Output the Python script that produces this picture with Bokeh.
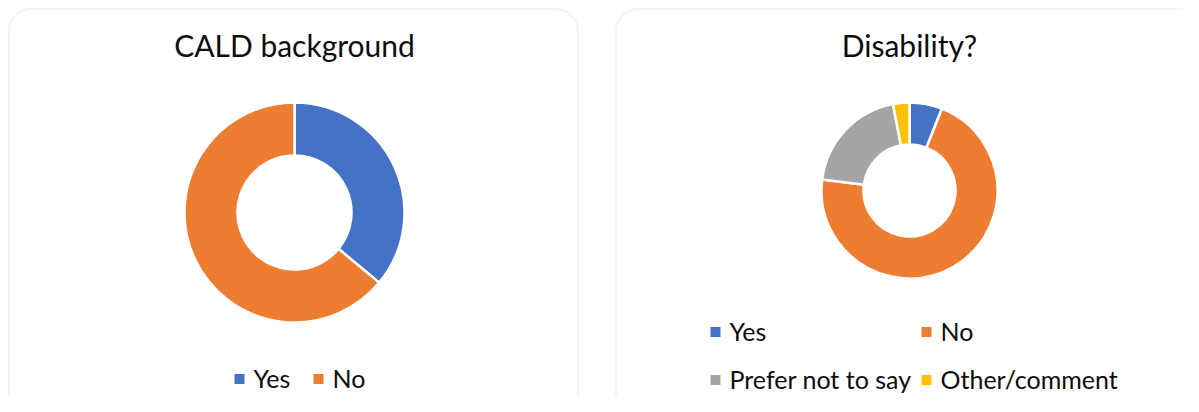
import numpy as np
from bokeh.plotting import figure
from bokeh.models import ColumnDataSource, Range1d, BoxAnnotation
from bokeh.core.properties import value
from bokeh.embed import file_html
from bokeh.resources import INLINE

# ---- data ----
cald_title = "CALD background"
cald_labels = ["Yes", "No"]
cald_values = [36, 64]

dis_title = "Disability?"
dis_labels = ["Yes", "No", "Prefer not to say", "Other/comment"]
dis_values = [6, 71, 20, 3]

# ---- styles ----
COLORS = ["#4472C4", "#ED7D31", "#A5A5A5", "#FFC000"]
FONT = "Lato"
TXT = "#0d0d0d"

W, H = 1183, 396


def py(y):
    # screen-style y (down) -> data y (up)
    return H - y


p = figure(width=W, height=H, x_range=Range1d(0, W), y_range=Range1d(0, H),
           output_backend="svg", toolbar_location=None, min_border=0)
p.axis.visible = False
p.grid.visible = False
p.outline_line_color = None
p.background_fill_color = "white"
p.border_fill_color = "white"

for l, r in [(8.5, 577.5), (615.5, 1197.5)]:
    p.add_layout(BoxAnnotation(left=l, right=r, top=py(8.5), bottom=py(418), border_radius=22,
                               fill_color="white", fill_alpha=1, line_color="#D9D9D9",
                               line_width=2, level="underlay"))


def donut(cx, cy, r_in, r_out, values, colors):
    v = np.array(values, float)
    frac = v / v.sum()
    cum = np.concatenate([[0], np.cumsum(frac)])
    start = np.pi / 2 - 2 * np.pi * cum[:-1]
    end = np.pi / 2 - 2 * np.pi * cum[1:]
    src = ColumnDataSource(dict(start=start, end=end, color=colors))
    p.annular_wedge(x=cx, y=py(cy), inner_radius=r_in, outer_radius=r_out,
                    start_angle="start", end_angle="end", direction="clock",
                    fill_color="color", line_color="white", line_width=2.5, source=src)


def title(cx, cy, text):
    p.text(x=[cx], y=[py(cy)], text=[text], text_font=value(FONT), text_font_size="30px",
           text_color=TXT, text_align="center", text_baseline="middle")


def legend(labels, colors, sq_x, txt_x, rows_y, ncol):
    xs, ys, lx = [], [], []
    for i, lab in enumerate(labels):
        r, c = divmod(i, ncol)
        xs.append(sq_x[c])
        lx.append(txt_x[c])
        ys.append(rows_y[r])
    p.rect(x=xs, y=[py(y + 1.5) for y in ys], width=10, height=10, fill_color=colors, line_color=None)
    p.text(x=lx, y=[py(y) for y in ys], text=labels, text_font=value(FONT), text_font_size="25px",
           text_color=TXT, text_align="left", text_baseline="middle")


title(294, 44, cald_title)
donut(294, 212, 57, 110, cald_values, COLORS[:2])
legend(cald_labels, COLORS[:2], [239, 318], [253, 332], [377], 2)

title(909, 44, dis_title)
donut(909, 190, 46, 88, dis_values, COLORS)
legend(dis_labels, COLORS, [715, 926], [729, 940], [330, 378], 2)

open("out.html", "w").write(file_html(p, INLINE))
